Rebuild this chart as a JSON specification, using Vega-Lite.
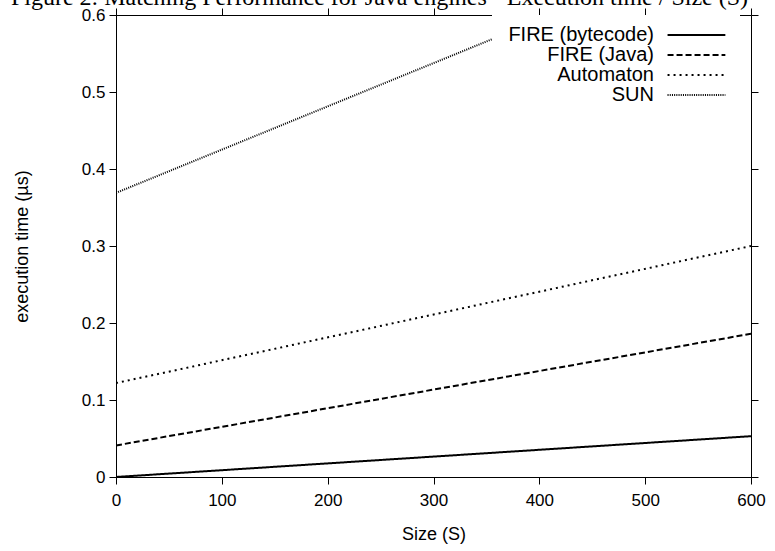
{
  "$schema": "https://vega.github.io/schema/vega-lite/v6.json",
  "width": 635,
  "height": 462,
  "autosize": {"type": "none"},
  "padding": {"left": 116, "top": 15, "right": 24, "bottom": 74},
  "background": "white",
  "title": {
    "text": "Figure 2: Matching Performance for Java engines - Execution time / Size (S)",
    "font": "Liberation Serif",
    "fontSize": 24,
    "fontWeight": "normal",
    "color": "black",
    "anchor": "middle",
    "frame": "group",
    "baseline": "alphabetic",
    "offset": 1,
    "dx": -54,
    "dy": 24
  },
  "data": {
    "values": [
      {"size": 0, "time": 0.0, "series": "FIRE (bytecode)"},
      {"size": 600, "time": 0.053, "series": "FIRE (bytecode)"},
      {"size": 0, "time": 0.041, "series": "FIRE (Java)"},
      {"size": 600, "time": 0.186, "series": "FIRE (Java)"},
      {"size": 0, "time": 0.122, "series": "Automaton"},
      {"size": 600, "time": 0.3, "series": "Automaton"},
      {"size": 0, "time": 0.369, "series": "SUN"},
      {"size": 600, "time": 0.706, "series": "SUN"}
    ]
  },
  "config": {
    "view": {"stroke": "black", "strokeWidth": 1},
    "axis": {
      "grid": false,
      "domainColor": "black",
      "tickColor": "black",
      "tickSize": 7,
      "labelFont": "Liberation Sans",
      "labelFontSize": 17,
      "labelColor": "black",
      "titleFont": "Liberation Sans",
      "titleFontSize": 18,
      "titleFontWeight": "normal",
      "titleColor": "black"
    },
    "legend": {
      "labelFont": "Liberation Sans",
      "labelFontSize": 20,
      "labelColor": "black"
    }
  },
  "layer": [
    {
      "mark": {"type": "line", "color": "black", "clip": true},
      "encoding": {
        "x": {
          "field": "size", "type": "quantitative",
          "scale": {"domain": [0, 600], "nice": false},
          "axis": {"orient": "bottom", "values": [0, 100, 200, 300, 400, 500, 600], "title": "Size (S)", "labelPadding": 8, "titlePadding": 17, "labelFlush": false}
        },
        "y": {
          "field": "time", "type": "quantitative",
          "scale": {"domain": [0, 0.6], "nice": false, "zero": false},
          "axis": {"orient": "left", "values": [0, 0.1, 0.2, 0.3, 0.4, 0.5, 0.6], "format": "~g", "title": "execution time (µs)", "labelPadding": 4, "titlePadding": 50, "labelFlush": false}
        },
        "strokeDash": {
          "field": "series", "type": "nominal",
          "scale": {"domain": ["FIRE (bytecode)", "FIRE (Java)", "Automaton", "SUN"], "range": [[1, 0], [6, 3], [2, 4], [1, 1.2]]},
          "legend": {
            "title": null,
            "orient": "none",
            "legendX": 376,
            "legendY": 0,
            "padding": 10,
            "fillColor": "white",
            "symbolType": "M18.3,0H25.1",
            "symbolSize": 289,
            "symbolStrokeWidth": 2,
            "symbolStrokeColor": "black",
            "labelAlign": "right",
            "labelOffset": 132,
            "rowPadding": 0
          }
        },
        "strokeWidth": {
          "field": "series", "type": "nominal",
          "scale": {"domain": ["FIRE (bytecode)", "FIRE (Java)", "Automaton", "SUN"], "range": [2, 2, 2, 1.5]},
          "legend": null
        }
      }
    },
    {
      "mark": {"type": "line", "opacity": 0, "clip": true},
      "encoding": {
        "x": {
          "field": "size", "type": "quantitative",
          "scale": {"domain": [0, 600], "nice": false},
          "axis": {"orient": "top", "values": [0, 100, 200, 300, 400, 500, 600], "labels": false, "title": null, "domain": false}
        },
        "y": {
          "field": "time", "type": "quantitative",
          "scale": {"domain": [0, 0.6], "nice": false, "zero": false},
          "axis": {"orient": "right", "values": [0, 0.1, 0.2, 0.3, 0.4, 0.5, 0.6], "labels": false, "title": null, "domain": false}
        },
        "detail": {"field": "series", "type": "nominal"}
      }
    }
  ],
  "resolve": {"axis": {"x": "independent", "y": "independent"}}
}
